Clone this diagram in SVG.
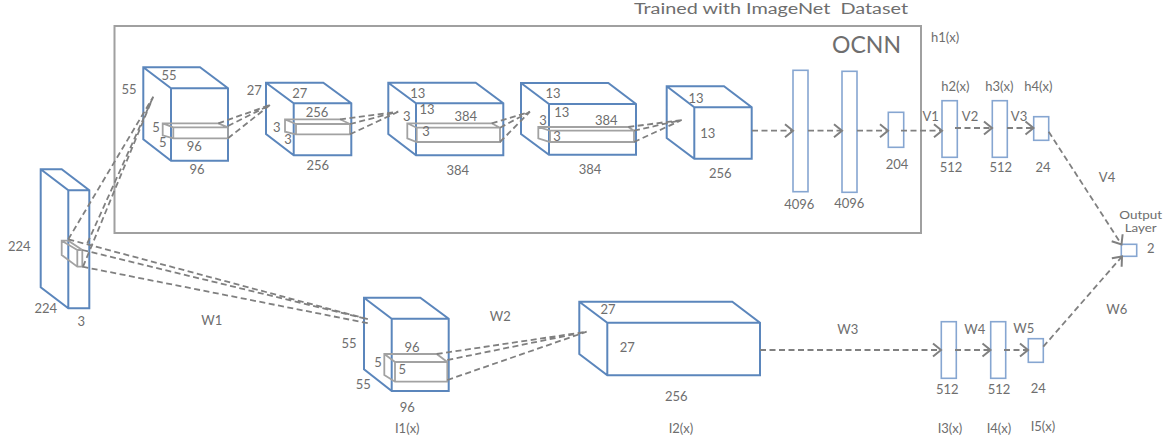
<svg xmlns="http://www.w3.org/2000/svg" width="1172" height="443" viewBox="0 0 1172 443">
<defs>
<marker id="chev" markerUnits="userSpaceOnUse" markerWidth="14" markerHeight="16" refX="11" refY="8" orient="auto">
<path d="M3,1.500 L11,8 L3,14.500" fill="none" stroke="#808080" stroke-width="2"/>
</marker>
</defs>
<style>
text{font-family:"Lato","Open Sans","Liberation Sans",sans-serif;font-size:13px;fill:#6e6e6e;text-anchor:middle}
.c{fill:#fff;stroke:#5b86bc;stroke-width:2;stroke-linejoin:miter}
.r{fill:#fff;stroke:#86a6d1;stroke-width:1.600}
.p{fill:none;stroke:#a2a2a2;stroke-width:1.800}
.d{fill:none;stroke:#808080;stroke-width:1.800;stroke-dasharray:6 3.500}
.a{marker-end:url(#chev)}
</style>
<rect width="1172" height="443" fill="#fff"/>
<g id="title"><text x="771" y="14" textLength="274" lengthAdjust="spacingAndGlyphs" style="font-size:14.500px;white-space:pre">Trained with ImageNet  Dataset</text></g>
<g id="ocnn-box"><rect x="114.500" y="26" width="806.500" height="207" fill="none" stroke="#a0a0a0" stroke-width="2"/><text x="866.500" y="53" style="font-size:23px">OCNN</text></g>
<text x="945" y="42">h1(x)</text>

<g id="input">
<path class="c" d="M40.700,169.300H61.700L89.300,190.300V308.300H68.300L40.700,287.300ZM40.700,169.300L68.300,190.300V308.300M68.300,190.300H89.300"/>
<path class="p" d="M61.700,240.700H68.300L82.300,250V266.700H77.300L61.700,255ZM61.700,240.700L77.300,250V266.700M77.300,250H82.300"/>
<text x="19.300" y="251">224</text><text x="45.700" y="313">224</text><text x="81.300" y="326">3</text>
</g>
<g id="conv1">
<path class="c" d="M143.300,67.300H200L228,88.300V160.700H171L143.300,139.300ZM143.300,67.300L171,88.300H228M171,88.300V160.700"/>
<path class="p" d="M162.700,123.300H218.300L228,127.300V138.300H173.300L162.700,135.300ZM162.700,123.300L173.300,127.300V138.300M173.300,127.300H228"/>
<text x="129" y="94">55</text><text x="169" y="80">55</text><text x="156" y="132">5</text><text x="162.700" y="147">5</text><text x="194.300" y="151">96</text><text x="197" y="174">96</text>
</g>
<g id="conv2">
<path class="c" d="M266,82.700H323.300L351.300,103.300V155.300H293.700L266,134ZM266,82.700L293.700,103.300H351.300M293.700,103.300V155.300"/>
<path class="p" d="M285,119.300H340L350,124V134.300H296L285,131.700ZM285,119.300L296,124V134.300M296,124H350"/>
<text x="254.300" y="95">27</text><text x="299.700" y="98">27</text><text x="276.700" y="132">3</text><text x="288" y="144">3</text><text x="317" y="117">256</text><text x="317.700" y="170">256</text>
</g>
<g id="conv3">
<path class="c" d="M388.300,82.700H475.700L503.300,103.300V155.300H416L388.300,134ZM388.300,82.700L416,103.300H503.300M416,103.300V155.300"/>
<path class="p" d="M407.300,123.300H491.700L500,127.700V142H416.700L407.300,138.300ZM407.300,123.300L416.700,127.700V142M416.700,127.700H500"/>
<text x="417.700" y="98">13</text><text x="427" y="114">13</text><text x="406.700" y="121">3</text><text x="465.700" y="121">384</text><text x="426" y="136">3</text><text x="457.700" y="175">384</text>
</g>
<g id="conv4">
<path class="c" d="M521,83H608.300L636,104V154.700H549L521,134ZM521,83L549,104H636M549,104V154.700"/>
<path class="p" d="M538.300,127H628.300L634,130.700V142H550L538.300,138.300ZM538.300,127L550,130.700V142M550,130.700H634"/>
<text x="553" y="98">13</text><text x="561.700" y="117">13</text><text x="543" y="125">3</text><text x="606.300" y="125">384</text><text x="557" y="141">3</text><text x="590" y="174">384</text>
</g>
<g id="conv5">
<path class="c" d="M666.700,86.300H724L751.700,107.300V158.700H694.300L666.700,138ZM666.700,86.300L694.300,107.300H751.700M694.300,107.300V158.700"/>
<text x="696" y="103">13</text><text x="707.700" y="138">13</text><text x="720.300" y="178">256</text>
</g>
<g id="fc1"><rect class="r" x="793" y="70.300" width="15" height="121.400"/><text x="799.300" y="208.500">4096</text></g>
<g id="fc2"><rect class="r" x="842" y="71.300" width="15" height="121"/><text x="849.300" y="207.500">4096</text></g>
<g id="fc3"><rect class="r" x="888.300" y="112.300" width="15.400" height="35"/><text x="897" y="169">204</text></g>
<g id="h2"><rect class="r" x="942" y="100.700" width="15.300" height="56.600"/><text x="955.300" y="91">h2(x)</text><text x="951" y="171.500">512</text></g>
<g id="h3"><rect class="r" x="992.300" y="100.700" width="15" height="56.600"/><text x="999.300" y="91">h3(x)</text><text x="1000.700" y="171.500">512</text></g>
<g id="h4"><rect class="r" x="1033.700" y="116.700" width="15" height="23.600"/><text x="1038.300" y="91">h4(x)</text><text x="1043" y="171.500">24</text></g>
<g id="output"><rect class="r" x="1121.300" y="244.300" width="15.400" height="12"/><text x="1140.700" y="218.500" textLength="43" lengthAdjust="spacingAndGlyphs" style="font-size:11px">Output</text><text x="1140.700" y="232" textLength="32" lengthAdjust="spacingAndGlyphs" style="font-size:11px">Layer</text><text x="1150.700" y="253">2</text></g>
<g id="l1">
<path class="c" d="M364,297.700H420.300L448.700,318.700V391H391.700L364,369.300ZM364,297.700L391.700,318.700H448.700M391.700,318.700V391"/>
<path class="p" d="M384.300,354H436.700L447.300,362V381.700H395L384.300,375ZM384.300,354L395,362V381.700M395,362H447.300"/>
<text x="349" y="347.500">55</text><text x="412" y="351.500">96</text><text x="378" y="366.500">5</text><text x="402.300" y="374">5</text><text x="363.300" y="389">55</text><text x="407.300" y="412">96</text><text x="407.300" y="432.500">I1(x)</text>
</g>
<g id="l2">
<path class="c" d="M579.300,301.700H732.300L760,322.700V375.300H607.300L579.300,354ZM579.300,301.700L607.300,322.700H760M607.300,322.700V375.300"/>
<text x="608" y="314">27</text><text x="627.300" y="351.500">27</text><text x="676.300" y="400.500">256</text><text x="681" y="432.500">I2(x)</text>
</g>
<g id="l3"><rect class="r" x="941.300" y="321.700" width="15" height="56.600"/><text x="947.300" y="394">512</text><text x="950" y="432.500">I3(x)</text></g>
<g id="l4"><rect class="r" x="990.700" y="321.700" width="15" height="56.600"/><text x="999" y="394">512</text><text x="999" y="432.500">I4(x)</text></g>
<g id="l5"><rect class="r" x="1028.300" y="338.700" width="15" height="23.600"/><text x="1038.300" y="393">24</text><text x="1043" y="431">I5(x)</text></g>
<g id="connectors">
<path class="d" d="M68.300,239.300L153.300,96.700M87.300,243.300L153.300,96.700M83,266.700L153.300,96.700"/>
<path class="d" d="M68.300,239.300L368.300,319.300M82.300,250L368.300,319.300M82.300,266.700L368.300,323.300"/>
<path class="d" d="M218.300,123.300L270,105M228,126L270,105M228,138.300L270,105"/>
<path class="d" d="M340,119.300L398.300,111.700M350,124L398.300,111.700M350,134.300L398.300,111.700"/>
<path class="d" d="M491.700,123.300L530,111.700M500,127.700L530,111.700M500,142L530,111.700"/>
<path class="d" d="M628.300,127L681.700,120M634,130.700L681.700,120M634,142L681.700,120"/>
<path class="d" d="M436.700,354L586.700,331.700M447.300,360L586.700,331.700M447.300,380L586.700,331.700"/>
<path class="d a" d="M752,130.700H793"/>
<path class="d a" d="M808,130.700H842"/>
<path class="d a" d="M857,130.700H888"/>
<path class="d a" d="M901,130.700H942"/>
<path class="d a" d="M955,128H992"/>
<path class="d a" d="M1007,128H1033.500"/>
<path class="d a" d="M1048.700,131.700L1121.500,244.500"/>
<path class="d a" d="M1043.300,346.700L1122,256.500"/>
<path class="d a" d="M760,350H941"/>
<path class="d a" d="M955,350H990.500"/>
<path class="d a" d="M1004,350H1028"/>
</g>
<g id="connector-labels">
<text x="211.700" y="325">W1</text><text x="500.300" y="321">W2</text><text x="847.700" y="334">W3</text><text x="974.700" y="334">W4</text><text x="1023.700" y="332.500">W5</text><text x="1116.700" y="313.500">W6</text>
<text x="930.700" y="121">V1</text><text x="970" y="121">V2</text><text x="1019" y="121">V3</text><text x="1107" y="182">V4</text>
</g>
</svg>
